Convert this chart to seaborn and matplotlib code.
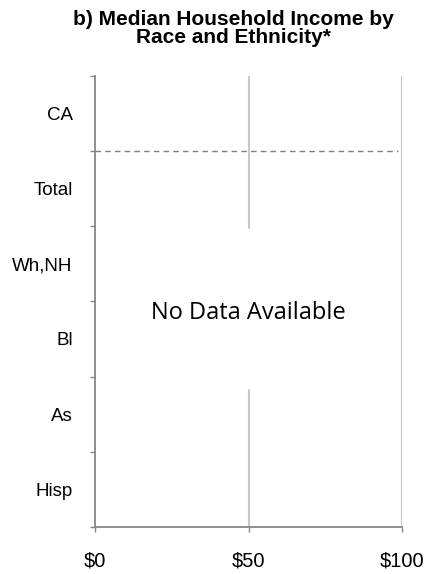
import numpy as np
import pandas as pd
import matplotlib
matplotlib.use('Agg')
import matplotlib.pyplot as plt
import seaborn as sns

# Categories and values (no data available for this panel)
groups = ['CA', 'Total', 'Wh,NH', 'Bl', 'As', 'Hisp']
income = [np.nan, np.nan, np.nan, np.nan, np.nan, np.nan]
x_ticks = [0, 50, 100]
x_labels = ['$0', '$50', '$100']

sns.set_style('white')
plt.rcParams['font.family'] = ['Liberation Sans', 'DejaVu Sans']
plt.rcParams['text.color'] = 'black'
plt.rcParams['xtick.color'] = 'black'
plt.rcParams['ytick.color'] = 'black'

df = pd.DataFrame({'group': groups, 'income': income})

fig = plt.figure(figsize=(4.26, 5.74), dpi=100)
ax = fig.add_axes([0.223, 0.082, 0.721, 0.786])

sns.barplot(data=df, x='income', y='group', order=groups, orient='h',
            color='#4f81bd', ax=ax, errorbar=None)

ax.set_xlim(0, 100)
ax.set_ylim(len(groups) - 0.5, -0.5)
ax.set_xlabel('')
ax.set_ylabel('')

# gridlines (the one at $50 is interrupted by the text box)
ax.axvline(100, color='#c8c8c8', lw=1.5, zorder=0)
ax.axvline(50, ymin=0, ymax=0.304, color='#c8c8c8', lw=1.5, zorder=0)
ax.axvline(50, ymin=0.663, ymax=1, color='#c8c8c8', lw=1.5, zorder=0)

# dashed separator between CA and the groups
ax.axhline(0.5, xmin=0, xmax=0.985, color='#808080', lw=1, ls=(0, (4, 3)))

ax.text(50, 2.65, 'No Data Available', ha='center', va='center',
        fontsize=17, family=['Open Sans', 'DejaVu Sans'], color='black')

for s in ['top', 'right']:
    ax.spines[s].set_visible(False)
for s in ['left', 'bottom']:
    ax.spines[s].set_color('#868686')
    ax.spines[s].set_linewidth(1.3)

ax.set_xticks(x_ticks)
ax.set_xticklabels(x_labels, fontsize=14.5)
ax.set_yticks(range(len(groups)))
ax.set_yticklabels(groups, fontsize=13.5)
ax.set_yticks(np.arange(-0.5, len(groups)), minor=True)
ax.tick_params(axis='y', which='major', length=0, pad=16)
ax.tick_params(axis='y', which='minor', left=True, length=3.6, width=1, color='#868686')
ax.tick_params(axis='x', which='major', bottom=True, length=3.6, width=1,
               color='#868686', pad=14)

fig.text(0.547, 0.983, 'b) Median Household Income by\nRace and Ethnicity*',
         ha='center', va='top', fontsize=15, fontweight='bold', linespacing=0.98)

fig.savefig('out.png', dpi=100)
